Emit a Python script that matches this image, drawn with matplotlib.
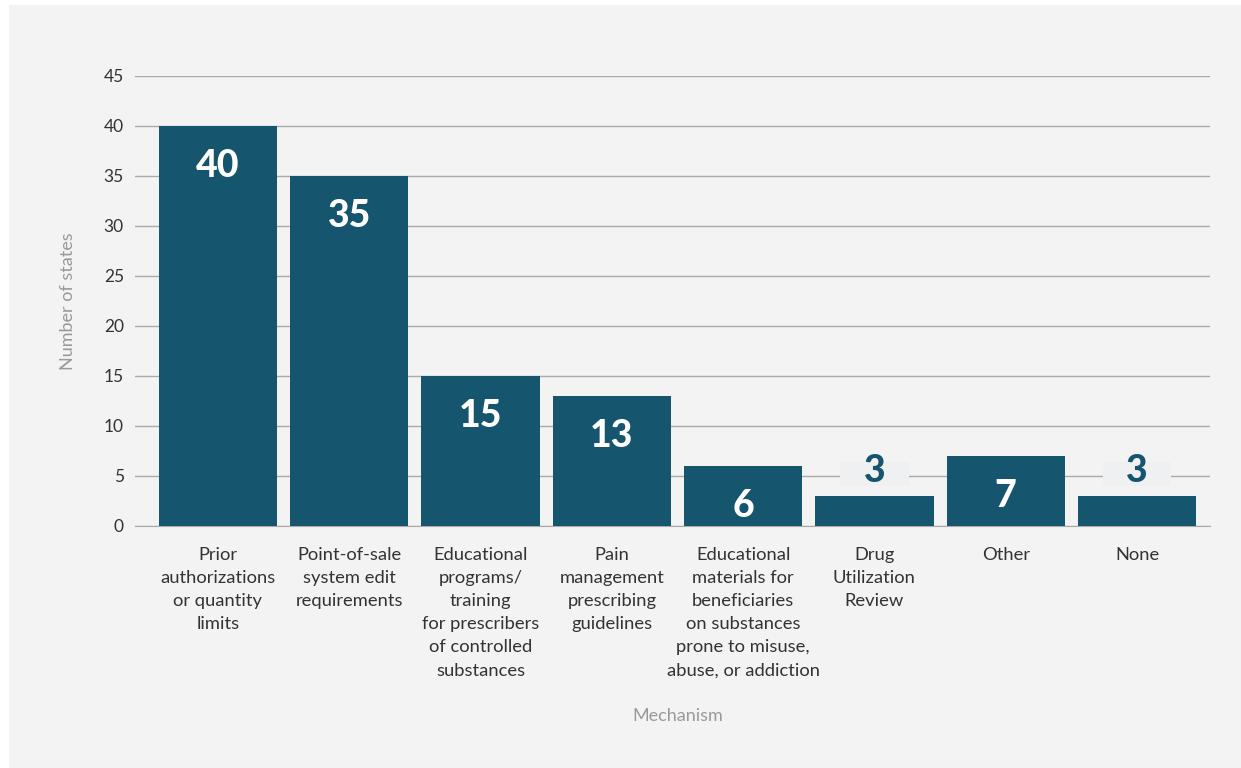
import matplotlib.pyplot as plt
import matplotlib.patches as patches

categories = [
    "Prior\nauthorizations\nor quantity\nlimits",
    "Point-of-sale\nsystem edit\nrequirements",
    "Educational\nprograms/\ntraining\nfor prescribers\nof controlled\nsubstances",
    "Pain\nmanagement\nprescribing\nguidelines",
    "Educational\nmaterials for\nbeneficiaries\non substances\nprone to misuse,\nabuse, or addiction",
    "Drug\nUtilization\nReview",
    "Other",
    "None",
]
values = [40, 35, 15, 13, 6, 3, 7, 3]
yticks = [0, 5, 10, 15, 20, 25, 30, 35, 40, 45]

bar_color = "#15556e"
panel = "#f3f3f3"

plt.rcParams['font.family'] = ['Lato', 'DejaVu Sans']

fig = plt.figure(figsize=(12.41, 7.68), dpi=100)
fig.patch.set_facecolor("white")
# grey panel behind the chart
fig.patches.append(patches.Rectangle((9 / 1241, 0), 1, 1 - 5 / 768,
                                     transform=fig.transFigure,
                                     facecolor=panel, edgecolor="none", zorder=-5))

ax = fig.add_axes([135 / 1241, 1 - 526 / 768, 1075 / 1241, 450 / 768])
ax.set_zorder(2)
ax.patch.set_alpha(0)

x = list(range(len(values)))
ax.bar(x, values, width=0.9, color=bar_color, zorder=3)

for i, v in enumerate(values):
    if v >= 5:
        ax.text(i, v - 4.0, str(v), ha="center", va="center", color="white",
                fontsize=27, fontweight="black", zorder=4)
    else:
        # short bars: label sits above, on a pale box that hides the grid
        ax.add_patch(patches.Rectangle((i - 0.26, v + 1.0), 0.52, 2.4,
                                       facecolor="#eff0f2", edgecolor="none",
                                       zorder=3))
        ax.text(i, v + 2.5, str(v), ha="center", va="center", color=bar_color,
                fontsize=27, fontweight="black", zorder=4)

ax.set_xlim(-0.632, 7.556)
ax.set_ylim(0, 45)
ax.set_yticks(yticks)
ax.yaxis.grid(True, color="#aaaaaa", linewidth=1)
ax.set_axisbelow(True)
ax.tick_params(axis="y", length=0, pad=8, labelsize=12.5, labelcolor="#333333")
ax.tick_params(axis="x", length=0, pad=15, labelsize=13.2, labelcolor="#333333")
ax.set_xticks(x)
ax.set_xticklabels(categories, linespacing=1.55, va="top")
for s in ["top", "right", "left"]:
    ax.spines[s].set_visible(False)
ax.spines["bottom"].set_color("#aaaaaa")

ax.set_ylabel("Number of states", color="#999999", fontsize=13, labelpad=20)
fig.text(678 / 1241, 1 - 716 / 768, "Mechanism", color="#999999",
         fontsize=13, ha="center", va="center")

fig.savefig("out.png", dpi=100)
